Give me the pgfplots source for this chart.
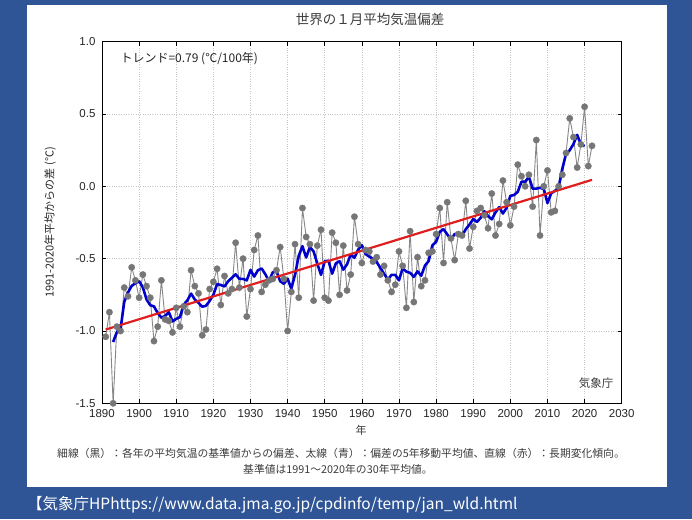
\documentclass[border=0pt]{standalone}
\usepackage{fontspec}
\setmainfont{Liberation Sans}
\newfontfamily\jp{Noto Sans CJK JP}
\usepackage{pgfplots}
\usepackage{pgfplotstable}
\pgfplotsset{compat=1.18}
\definecolor{bgblue}{RGB}{47,85,151}
\definecolor{mkgray}{RGB}{118,118,118}
\definecolor{lngray}{RGB}{135,135,135}
\definecolor{avgblue}{RGB}{0,0,205}
\definecolor{trendred}{RGB}{225,30,30}
\definecolor{txt}{RGB}{60,60,60}

\pgfplotstableread{
year anom
1891 -1.04
1892 -0.87
1893 -1.50
1894 -0.97
1895 -1.00
1896 -0.70
1897 -0.76
1898 -0.56
1899 -0.65
1900 -0.77
1901 -0.61
1902 -0.69
1903 -0.77
1904 -1.07
1905 -0.97
1906 -0.65
1907 -0.92
1908 -0.93
1909 -1.01
1910 -0.84
1911 -0.97
1912 -0.83
1913 -0.87
1914 -0.58
1915 -0.69
1916 -0.74
1917 -1.03
1918 -0.99
1919 -0.71
1920 -0.66
1921 -0.57
1922 -0.82
1923 -0.62
1924 -0.74
1925 -0.71
1926 -0.39
1927 -0.70
1928 -0.50
1929 -0.90
1930 -0.71
1931 -0.44
1932 -0.34
1933 -0.73
1934 -0.68
1935 -0.65
1936 -0.64
1937 -0.58
1938 -0.42
1939 -0.64
1940 -1.00
1941 -0.73
1942 -0.40
1943 -0.77
1944 -0.15
1945 -0.35
1946 -0.40
1947 -0.79
1948 -0.41
1949 -0.30
1950 -0.77
1951 -0.79
1952 -0.32
1953 -0.39
1954 -0.75
1955 -0.41
1956 -0.72
1957 -0.61
1958 -0.21
1959 -0.40
1960 -0.53
1961 -0.44
1962 -0.45
1963 -0.52
1964 -0.49
1965 -0.61
1966 -0.55
1967 -0.65
1968 -0.73
1969 -0.68
1970 -0.45
1971 -0.55
1972 -0.84
1973 -0.31
1974 -0.80
1975 -0.49
1976 -0.69
1977 -0.65
1978 -0.46
1979 -0.45
1980 -0.33
1981 -0.15
1982 -0.53
1983 -0.11
1984 -0.36
1985 -0.51
1986 -0.33
1987 -0.34
1988 -0.10
1989 -0.43
1990 -0.28
1991 -0.17
1992 -0.15
1993 -0.20
1994 -0.29
1995 -0.05
1996 -0.34
1997 -0.26
1998 0.04
1999 -0.11
2000 -0.27
2001 -0.14
2002 0.15
2003 0.07
2004 0.00
2005 0.08
2006 -0.14
2007 0.32
2008 -0.34
2009 0.00
2010 0.11
2011 -0.18
2012 -0.17
2013 0.00
2014 0.08
2015 0.23
2016 0.47
2017 0.34
2018 0.13
2019 0.29
2020 0.55
2021 0.14
2022 0.28
}\annual

\pgfplotstableread{
year avg
1893 -1.076
1894 -1.008
1895 -0.986
1896 -0.798
1897 -0.734
1898 -0.688
1899 -0.670
1900 -0.656
1901 -0.698
1902 -0.782
1903 -0.822
1904 -0.830
1905 -0.876
1906 -0.908
1907 -0.896
1908 -0.870
1909 -0.934
1910 -0.916
1911 -0.904
1912 -0.818
1913 -0.788
1914 -0.742
1915 -0.782
1916 -0.806
1917 -0.832
1918 -0.826
1919 -0.792
1920 -0.750
1921 -0.676
1922 -0.682
1923 -0.692
1924 -0.656
1925 -0.632
1926 -0.608
1927 -0.640
1928 -0.640
1929 -0.650
1930 -0.578
1931 -0.624
1932 -0.580
1933 -0.568
1934 -0.608
1935 -0.656
1936 -0.594
1937 -0.586
1938 -0.656
1939 -0.674
1940 -0.638
1941 -0.708
1942 -0.610
1943 -0.480
1944 -0.414
1945 -0.492
1946 -0.420
1947 -0.450
1948 -0.534
1949 -0.612
1950 -0.518
1951 -0.514
1952 -0.604
1953 -0.532
1954 -0.518
1955 -0.576
1956 -0.540
1957 -0.470
1958 -0.494
1959 -0.438
1960 -0.406
1961 -0.468
1962 -0.486
1963 -0.502
1964 -0.524
1965 -0.564
1966 -0.606
1967 -0.644
1968 -0.612
1969 -0.612
1970 -0.650
1971 -0.566
1972 -0.590
1973 -0.598
1974 -0.626
1975 -0.588
1976 -0.618
1977 -0.548
1978 -0.516
1979 -0.408
1980 -0.384
1981 -0.314
1982 -0.296
1983 -0.332
1984 -0.368
1985 -0.330
1986 -0.328
1987 -0.342
1988 -0.296
1989 -0.264
1990 -0.226
1991 -0.246
1992 -0.218
1993 -0.172
1994 -0.206
1995 -0.228
1996 -0.180
1997 -0.144
1998 -0.188
1999 -0.148
2000 -0.066
2001 -0.060
2002 -0.038
2003 0.032
2004 0.032
2005 0.066
2006 -0.016
2007 -0.016
2008 -0.010
2009 -0.018
2010 -0.116
2011 -0.048
2012 -0.032
2013 -0.008
2014 0.122
2015 0.224
2016 0.250
2017 0.292
2018 0.356
2019 0.290
2020 0.278
}\movavg

\begin{document}
\begin{tikzpicture}[x=1pt,y=1pt]
\fill[bgblue] (0pt,0pt) rectangle (692pt,519pt);
\fill[white] (27pt,32pt) rectangle (667pt,514pt);
\begin{axis}[
  at={(102pt,115.7pt)}, anchor=south west,
  scale only axis, width=519.7pt, height=361.6pt,
  xmin=1890, xmax=2030, ymin=-1.5, ymax=1.0,
  xtick={1890,1900,...,2030},
  ytick={-1.5,-1.0,-0.5,0.0,0.5,1.0},
  grid=major,
  grid style={dotted, gray!45, line width=0.5pt},
  axis line style={black, line width=1pt},
  tick align=inside, major tick length=4pt,
  tick style={black, line width=0.6pt},
  /pgf/number format/assume math mode=true,
  ticklabel style={font=\fontsize{11.5}{13}\selectfont, text=black!85},
  xticklabel style={/pgf/number format/1000 sep={}, yshift=-2.5pt},
  yticklabel style={/pgf/number format/.cd, fixed, fixed zerofill, precision=1, /tikz/xshift=-3pt},
  clip=false,
]
\addplot[color=lngray, line width=0.9pt, mark=*, mark size=3.2pt,
  mark options={fill=mkgray, draw=mkgray, line width=0.3pt}] table[x=year,y=anom] {\annual};
\addplot[color=avgblue, line width=2.6pt, line join=round] table[x=year,y=avg] {\movavg};
\addplot[color=trendred, line width=2.2pt] coordinates {(1891,-0.99) (2022,0.045)};
\end{axis}
\node[text=txt, font=\jp\fontsize{13.5}{15}\selectfont] at (370pt,500pt) {世界の１月平均気温偏差};
\node[text=black!85, font=\jp\fontsize{12}{14}\selectfont, anchor=west] at (117pt,460pt) {トレンド=0.79 (℃/100年)};
\node[text=txt, font=\jp\fontsize{11.5}{13}\selectfont] at (596pt,136pt) {気象庁};
\node[text=black!85, font=\jp\fontsize{11}{13}\selectfont, rotate=90] at (50pt,296.5pt) {1991-2020年平均からの差 (℃)};
\node[text=txt, font=\jp\fontsize{11}{13}\selectfont] at (361pt,89pt) {年};
\node[text=txt, font=\jp\fontsize{10.8}{13}\selectfont] at (341pt,66pt) {細線（黒）：各年の平均気温の基準値からの偏差、太線（青）：偏差の5年移動平均値、直線（赤）：長期変化傾向。};
\node[text=txt, font=\jp\fontsize{10.8}{13}\selectfont] at (338pt,50pt) {基準値は1991～2020年の30年平均値。};
\node[text=white, font=\jp\fontsize{15.5}{18}\selectfont, anchor=west, inner sep=0pt] at (27pt,14pt) {【気象庁HPhttps://www.data.jma.go.jp/cpdinfo/temp/jan\_wld.html};
\end{tikzpicture}
\end{document}
